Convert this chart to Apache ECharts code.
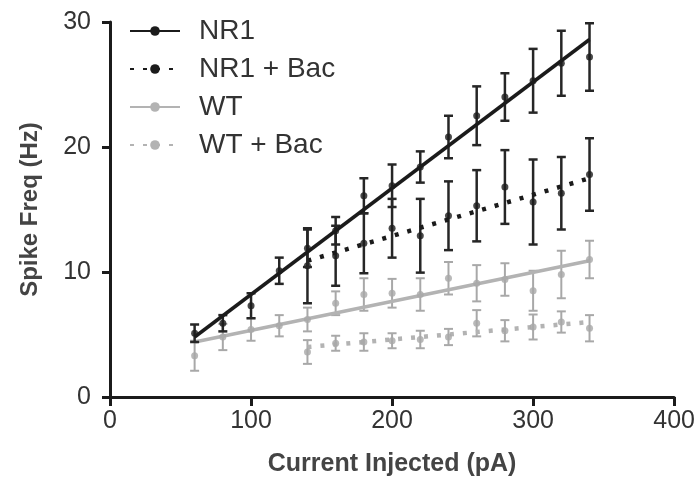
<!DOCTYPE html>
<html>
<head>
<meta charset="utf-8">
<script src="https://cdn.jsdelivr.net/npm/echarts@6/dist/echarts.min.js"></script>
<style>html,body{margin:0;padding:0;background:#fff}#c{width:698px;height:482px}</style>
</head>
<body>
<div id="c"></div>
<script>
// ---- data ----
const currents = [60, 80, 100, 120, 140, 160, 180, 200, 220, 240, 260, 280, 300, 320, 340];
const bacCurrents = [140, 160, 180, 200, 220, 240, 260, 280, 300, 320, 340];

const nr1Mean = [5.1, 5.9, 7.3, 10.1, 11.9, 13.3, 16.1, 16.9, 18.4, 20.8, 22.5, 24.0, 25.3, 26.7, 27.2];
const nr1Sem  = [0.7, 0.65, 1.0, 1.05, 1.5, 1.1, 1.4, 1.7, 1.25, 1.7, 2.35, 1.9, 2.55, 2.6, 2.7];

const nr1BacMean = [10.5, 11.3, 12.3, 13.5, 12.9, 14.5, 15.3, 16.8, 15.6, 16.3, 17.8];
const nr1BacSem  = [3.0, 2.4, 2.4, 2.35, 2.95, 2.75, 2.85, 2.95, 3.4, 2.9, 2.9];

const wtMean = [3.3, 4.8, 5.4, 5.7, 6.2, 7.5, 8.2, 8.3, 8.2, 9.5, 9.1, 9.4, 8.5, 9.8, 11.0];
const wtSem  = [1.2, 1.05, 0.9, 0.85, 0.95, 0.95, 1.3, 1.15, 1.3, 1.3, 1.45, 1.3, 1.6, 1.9, 1.5];

const wtBacMean = [3.6, 4.3, 4.4, 4.5, 4.6, 4.8, 5.9, 5.3, 5.6, 6.0, 5.5];
const wtBacSem  = [0.95, 0.6, 0.7, 0.6, 0.7, 0.65, 1.05, 0.85, 1.0, 0.85, 1.05];

// linear fit lines: [x, y] end points
const nr1Fit    = [[60, 4.8], [340, 28.6]];
const nr1BacFit = [[140, 10.9], [340, 17.5]];
const wtFit     = [[60, 4.4], [340, 10.9]];
const wtBacFit  = [[140, 4.0], [340, 6.0]];

const seriesNames = ['NR1', 'NR1 + Bac', 'WT', 'WT + Bac'];
const xTicks = [0, 100, 200, 300, 400];
const yTicks = [0, 10, 20, 30];

// ---- build ----
const BLACK = '#1b1b1b', GRAY = '#b3b3b3', GRAY_PT = '#a8a8a8';

function errData(xs, m, s) { return xs.map((x, i) => [x, m[i] - s[i], m[i] + s[i]]); }
function ptData(xs, m) { return xs.map((x, i) => [x, m[i]]); }

function errSeries(name, data, color, lw, z) {
  return {
    name, type: 'custom', data, z,
    encode: { x: 0, y: [1, 2] },
    renderItem(params, api) {
      const x = api.value(0);
      const lo = api.coord([x, api.value(1)]);
      const hi = api.coord([x, api.value(2)]);
      const w = 4.5;
      const st = { stroke: color, lineWidth: lw };
      return { type: 'group', children: [
        { type: 'line', shape: { x1: lo[0], y1: lo[1], x2: hi[0], y2: hi[1] }, style: st },
        { type: 'line', shape: { x1: lo[0] - w, y1: lo[1], x2: lo[0] + w, y2: lo[1] }, style: st },
        { type: 'line', shape: { x1: hi[0] - w, y1: hi[1], x2: hi[0] + w, y2: hi[1] }, style: st }
      ]};
    }
  };
}
function fitSeries(name, data, color, dotted, z) {
  return {
    name, type: 'line', data, z,
    symbol: 'circle', symbolSize: 6, showSymbol: false,
    itemStyle: { color },
    lineStyle: { color, width: dotted ? 4.5 : 3.5, type: dotted ? [4, 9] : 'solid' },
    emphasis: { disabled: true }, silent: true
  };
}
function ptSeries(name, data, color, z) {
  return { name, type: 'scatter', data, z, symbol: 'circle', symbolSize: 7, itemStyle: { color } };
}

const chart = echarts.init(document.getElementById('c'), null, { renderer: 'canvas' });
chart.setOption({
  animation: false,
  backgroundColor: '#fff',
  textStyle: { fontFamily: 'Liberation Sans, Arial, sans-serif' },
  grid: { left: 110, right: 23, top: 22, bottom: 82, containLabel: false },
  legend: {
    data: seriesNames,
    orient: 'vertical', left: 124, top: 12,
    itemWidth: 50, itemHeight: 12, itemGap: 10,
    textStyle: { fontSize: 28, color: '#333', padding: [0, 0, 0, 14], lineHeight: 27 },
    selectedMode: false
  },
  xAxis: {
    type: 'value', min: xTicks[0], max: xTicks[xTicks.length - 1], interval: 100,
    name: 'Current Injected (pA)', nameLocation: 'middle', nameGap: 55,
    nameTextStyle: { fontSize: 25, fontWeight: 'bold', color: '#444' },
    axisLine: { show: true, onZero: false, lineStyle: { color: BLACK, width: 3 } },
    axisTick: { show: true, length: 9, lineStyle: { color: BLACK, width: 3 } },
    axisLabel: { fontSize: 25, color: '#333', margin: 12 },
    splitLine: { show: false }
  },
  yAxis: {
    type: 'value', min: yTicks[0], max: yTicks[yTicks.length - 1], interval: 10,
    name: 'Spike Freq (Hz)', nameLocation: 'middle', nameGap: 68,
    nameTextStyle: { fontSize: 24, fontWeight: 'bold', color: '#444' },
    axisLine: { show: true, onZero: false, lineStyle: { color: BLACK, width: 3 } },
    axisTick: { show: true, length: 8, lineStyle: { color: BLACK, width: 3 } },
    axisLabel: { fontSize: 25, color: '#333', margin: 19 },
    splitLine: { show: false }
  },
  series: [
    fitSeries(seriesNames[3], wtBacFit, GRAY, true, 2),
    errSeries(seriesNames[3], errData(bacCurrents, wtBacMean, wtBacSem), GRAY_PT, 2, 2),
    ptSeries(seriesNames[3], ptData(bacCurrents, wtBacMean), GRAY_PT, 2),
    fitSeries(seriesNames[2], wtFit, GRAY, false, 3),
    errSeries(seriesNames[2], errData(currents, wtMean, wtSem), GRAY_PT, 2, 3),
    ptSeries(seriesNames[2], ptData(currents, wtMean), GRAY_PT, 3),
    fitSeries(seriesNames[1], nr1BacFit, BLACK, true, 4),
    errSeries(seriesNames[1], errData(bacCurrents, nr1BacMean, nr1BacSem), '#262626', 2.5, 4),
    ptSeries(seriesNames[1], ptData(bacCurrents, nr1BacMean), BLACK, 4),
    fitSeries(seriesNames[0], nr1Fit, BLACK, false, 5),
    errSeries(seriesNames[0], errData(currents, nr1Mean, nr1Sem), '#262626', 2.5, 5),
    ptSeries(seriesNames[0], ptData(currents, nr1Mean), BLACK, 5)
  ]
});
</script>
</body>
</html>
